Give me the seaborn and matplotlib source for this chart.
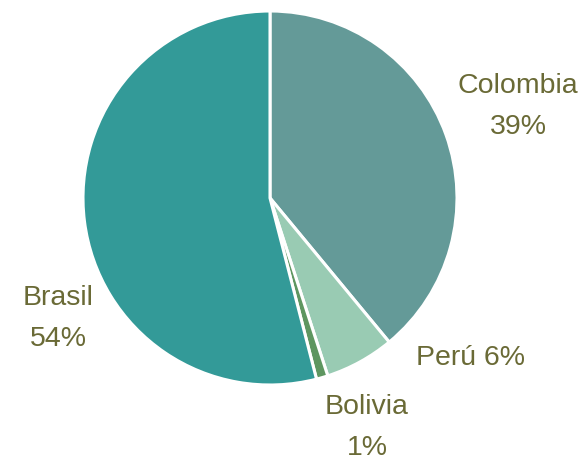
import matplotlib
matplotlib.use("Agg")
import matplotlib.pyplot as plt
import seaborn as sns

# Share of production by country
countries = ["Colombia", "Perú", "Bolivia", "Brasil"]
shares = [39, 6, 1, 54]
colors = ["#649a98", "#99cbb3", "#5e9660", "#339a98"]

sns.set_theme(style="white")
plt.rcParams["font.family"] = ["Liberation Sans", "DejaVu Sans"]

text_color = "#6a6a36"

fig = plt.figure(figsize=(5.87, 4.62), dpi=100)
ax = fig.add_axes([0, 0, 1, 1])

wedges, _ = ax.pie(
    shares,
    colors=colors,
    startangle=90,
    counterclock=False,
    radius=1.0,
    wedgeprops=dict(edgecolor="white", linewidth=2.2),
)

# Label placement (data units, pie radius = 1)
label_pos = {
    "Colombia": (1.326, 0.49, "{name}\n{pct}%"),
    "Perú": (1.07, -0.858, "{name} {pct}%"),
    "Bolivia": (0.519, -1.227, "{name}\n{pct}%"),
    "Brasil": (-1.134, -0.644, "{name}\n{pct}%"),
}
for name, pct in zip(countries, shares):
    x, y, fmt = label_pos[name]
    ax.text(x, y, fmt.format(name=name, pct=pct), ha="center", va="center",
            fontsize=20.5, color=text_color, linespacing=1.75)

cx, cy, r = 270, 198, 187
ax.set_xlim(-cx / r, (587 - cx) / r)
ax.set_ylim(-(462 - cy) / r, cy / r)
ax.set_aspect("auto")
ax.axis("off")

fig.savefig("out.png", dpi=100, facecolor="white")
